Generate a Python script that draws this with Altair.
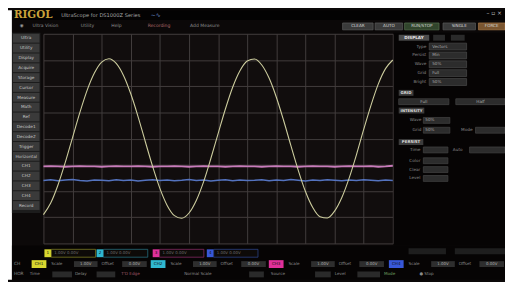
import altair as alt
import pandas as pd

# ---------------- waveform data (units: divisions) ----------------
grid_x = [0, 1, 2, 3, 4, 5, 6, 7, 8, 9, 10, 11, 12]
grid_y = [-4, -3, -2, -1, 0, 1, 2, 3, 4]

ch_t = [0.0, 0.25, 0.5, 0.75, 1.0, 1.25, 1.5, 1.75, 2.0, 2.25, 2.5, 2.75,
        3.0, 3.25, 3.5, 3.75, 4.0, 4.25, 4.5, 4.75, 5.0, 5.25, 5.5, 5.75,
        6.0, 6.25, 6.5, 6.75, 7.0, 7.25, 7.5, 7.75, 8.0, 8.25, 8.5, 8.75,
        9.0, 9.25, 9.5, 9.75, 10.0, 10.25, 10.5, 10.75, 11.0, 11.25, 11.5, 11.75, 12.0]

ch1_v = [-2.90, -2.46, -1.77, -0.91, 0.04, 0.99, 1.84, 2.50, 2.92, 3.05, 2.87, 2.41,
         1.71, 0.84, -0.12, -1.06, -1.90, -2.55, -2.94, -3.04, -2.84, -2.36, -1.65, -0.76,
         0.19, 1.13, 1.96, 2.59, 2.96, 3.04, 2.81, 2.31, 1.58, 0.69, -0.27, -1.20,
         -2.02, -2.63, -2.98, -3.03, -2.77, -2.25, -1.51, -0.62, 0.35, 1.27, 2.08, 2.67, 3.00]

ch3_v = [-1.06, -1.05, -1.06, -1.07, -1.06, -1.05, -1.06, -1.06, -1.07, -1.06, -1.05, -1.06,
         -1.06, -1.05, -1.06, -1.07, -1.06, -1.06, -1.05, -1.06, -1.07, -1.06, -1.05, -1.06,
         -1.06, -1.07, -1.06, -1.05, -1.06, -1.06, -1.07, -1.06, -1.05, -1.06, -1.06, -1.07,
         -1.06, -1.05, -1.06, -1.06, -1.07, -1.06, -1.05, -1.06, -1.06, -1.05, -1.07, -1.06, -1.04]

ch4_v = [-1.60, -1.57, -1.61, -1.58, -1.56, -1.60, -1.62, -1.58, -1.59, -1.61, -1.57, -1.60,
         -1.58, -1.62, -1.59, -1.57, -1.60, -1.58, -1.61, -1.59, -1.56, -1.60, -1.58, -1.62,
         -1.59, -1.57, -1.61, -1.58, -1.60, -1.59, -1.57, -1.61, -1.58, -1.60, -1.56, -1.59,
         -1.62, -1.58, -1.60, -1.57, -1.59, -1.61, -1.58, -1.60, -1.57, -1.59, -1.61, -1.58, -1.60]

side_items = ["Ultra", "Utility", "Display", "Acquire", "Storage", "Cursor", "Measure",
              "Math", "Ref", "Decode1", "Decode2", "Trigger", "Horizontal", "CH1",
              "CH2", "CH3", "CH4", "Record"]
menu_items = ["Ultra Vision", "Utility", "Help", "Recording", "Add  Measure"]
buttons = ["CLEAR", "AUTO", "RUN/STOP", "SINGLE", "FORCE"]
panel_rows = ["Type", "Persist", "Wave", "Grid", "Bright"]
panel_vals = ["Vectors", "Min", "50%", "Full", "50%"]
channels = ["CH1", "CH2", "CH3", "CH4"]
ch_scale = ["1.00V", "1.00V", "1.00V", "1.00V"]

# ---------------- layout of the window chrome (page pixels -> plot-area pixels) ----------------
OX, OY = 44, 32
W_PLOT, H_PLOT = 355, 213


def rect(x0, y0, x1, y1, fill, stroke="transparent"):
    return {"x0": x0 - OX, "y0": y0 - OY, "x1": x1 - OX, "y1": y1 - OY,
            "fill": fill, "stroke": stroke}


def lab(x, y, t, c="#8e8e8e", s=4.6):
    return {"x": x - OX, "y": y - OY, "t": t, "c": c, "s": s}


R, TL, TC, TR, TB = [], [], [], [], []

R.append(rect(8, 8, 12, 282, "#ffffff"))
R.append(rect(12, 8, 513, 18, "#030202"))
R.append(rect(12, 18, 513, 31, "#0b0808"))

# title + window controls
TL.append(lab(62, 12.5, "UltraScope for DS1000Z Series", "#a8a8a8", 5.2))
TL.append(lab(153, 12.5, "~∿", "#6c8cc8", 6))
TR.append(lab(510, 11, "–  ▫  ×", "#bdbdbd", 6))

# menu row
TL.append(lab(20, 24.5, "◉", "#9a9a9a", 4.6))
for x, t, c in zip([33, 82, 113, 150, 193], menu_items,
                   ["#8e8e8e", "#8e8e8e", "#8e8e8e", "#b06a6a", "#8e8e8e"]):
    TL.append(lab(x, 24.5, t, c, 4.6))

# toolbar buttons
for (x0, x1, f, s), t in zip([(348, 379, "#3a3a3a", "#5a5a5a"), (381, 409, "#3a3a3a", "#5a5a5a"),
                             (411, 446, "#31452c", "#58724f"), (450, 483, "#3a3a3a", "#5a5a5a"),
                             (486, 513, "#7b5630", "#a67648")], buttons):
    R.append(rect(x0, 21, x1, 28, f, s))
    TC.append(lab((x0 + x1) / 2, 24.6, t, "#d6d6d6", 4.2))

# left sidebar
R.append(rect(12, 31, 41, 214, "#1c1c1c"))
for i, name in enumerate(side_items):
    y0 = 32 + 10 * i
    R.append(rect(13, y0, 40, y0 + 9, "#3a3a3a"))
    TC.append(lab(26.5, y0 + 4.8, name, "#c8c8c8", 4.3))

# right settings panel
R.append(rect(400, 31, 513, 247, "#060404"))
R.append(rect(405, 33, 436, 39, "#4c4c4c"))
TB.append(lab(420.5, 36.2, "DISPLAY", "#e6e6e6", 4.2))
R.append(rect(440, 33, 452, 39, "#2a2a2a"))
R.append(rect(458, 33, 472, 39, "#2a2a2a"))
for i, (n, v) in enumerate(zip(panel_rows, panel_vals)):
    yc = 45 + 9 * i
    TR.append(lab(433, yc, n, "#8a8a8a", 4.3))
    R.append(rect(436, yc - 3.5, 474, yc + 3.5, "#2c2c2c", "#4a4a4a"))
    TL.append(lab(439, yc, v, "#a8a8a8", 4.2))
R.append(rect(405, 89, 420, 95, "#3c3c3c"))
TB.append(lab(412.5, 92.2, "GRID", "#dcdcdc", 4.0))
R.append(rect(405, 98, 456, 104, "#2c2c2c", "#444444"))
R.append(rect(463, 98, 513, 104, "#2c2c2c", "#444444"))
TC.append(lab(430.5, 101.2, "Full", "#a8a8a8", 4.2))
TC.append(lab(488, 101.2, "Half", "#a8a8a8", 4.2))
R.append(rect(405, 107, 431, 113, "#3c3c3c"))
TB.append(lab(418, 110.2, "INTENSITY", "#dcdcdc", 3.8))
for yc, n in [(120, "Wave"), (130, "Grid")]:
    TR.append(lab(428, yc, n, "#8a8a8a", 4.3))
    R.append(rect(430, yc - 3, 457, yc + 3, "#2c2c2c", "#444444"))
    TL.append(lab(432, yc, "50%", "#a8a8a8", 4.2))
TR.append(lab(480, 130, "Mode", "#8a8a8a", 4.3))
R.append(rect(483, 127, 513, 133, "#2c2c2c", "#444444"))
R.append(rect(405, 139, 430, 145, "#3c3c3c"))
TB.append(lab(417.5, 142.2, "PERSIST", "#dcdcdc", 4.0))
for yc, n in [(150, "Time"), (161, "Color"), (170, "Clear"), (179, "Level")]:
    TR.append(lab(427, yc, n, "#8a8a8a", 4.3))
    R.append(rect(430, yc - 3, 455, yc + 3, "#2c2c2c", "#444444"))
TL.append(lab(460, 150, "Auto", "#8a8a8a", 4.3))
R.append(rect(477, 147, 513, 153, "#2c2c2c", "#444444"))

# bottom status area
R.append(rect(12, 247, 513, 282, "#060404"))
R.append(rect(415, 250, 453, 256, "#1e1e1e"))
R.append(rect(462, 250, 513, 256, "#1e1e1e"))
ch_cols = ["#d8d830", "#30b8d0", "#e0309a", "#3858d8"]
ch_dim = ["#8c8c28", "#2a7c8c", "#963070", "#304a96"]
for x0, c, d, name, sc in zip([45, 98, 155, 210], ch_cols, ch_dim, channels, ch_scale):
    R.append(rect(x0, 251, x0 + 7, 259, c))
    R.append(rect(x0 + 7, 251, x0 + 52, 259, "#0d0a08", d))
    TC.append(lab(x0 + 3.5, 255.2, name[-1], "#101010", 4.2))
    TL.append(lab(x0 + 10, 255.2, sc + "  0.00V", "#6e6e6e", 4.0))
TL.append(lab(14, 266, "CH", "#8a8a8a", 4.4))
for x0, c, name in zip([32, 153, 273, 395], ch_cols, channels):
    R.append(rect(x0, 262, x0 + 15, 270, c))
    TC.append(lab(x0 + 7.5, 266.2, name, "#101010", 4.2))
    TL.append(lab(x0 + 20, 266, "Scale", "#8a8a8a", 4.2))
    R.append(rect(x0 + 43, 263, x0 + 67, 269, "#2e2e2e"))
    TC.append(lab(x0 + 55, 266.2, "1.00V", "#b0b0b0", 4.0))
    TL.append(lab(x0 + 71, 266, "Offset", "#8a8a8a", 4.2))
    R.append(rect(x0 + 92, 263, x0 + 117, 269, "#2e2e2e"))
    TC.append(lab(x0 + 104.5, 266.2, "0.00V", "#b0b0b0", 4.0))
TL.append(lab(14, 276.5, "HOR", "#8a8a8a", 4.4))
for x, t, c in [(30, "Time", "#8a8a8a"), (76, "Delay", "#8a8a8a"), (123, "T'D  Edge", "#a05868"),
                (187, "Normal  Scale", "#8a8a8a"), (275, "Source", "#8a8a8a"),
                (340, "Level", "#8a8a8a"), (390, "Mode", "#6fa060"), (426, "●  Stop", "#8a8a8a")]:
    TL.append(lab(x, 276.5, t, c, 4.2))
for x0, x1 in [(53, 73), (98, 117), (253, 268), (320, 336), (363, 386)]:
    R.append(rect(x0, 273.5, x1, 279.5, "#2a2a2a"))

# ---------------- build the chart ----------------
rect_df = pd.DataFrame(R)


def text_layer(rows, align, weight="normal", font="DejaVu Sans"):
    return alt.Chart(pd.DataFrame(rows)).mark_text(
        align=align, baseline="middle", font=font, fontWeight=weight
    ).encode(
        x=alt.X("x:Q", scale=None),
        y=alt.Y("y:Q", scale=None),
        text="t:N",
        color=alt.Color("c:N", scale=None),
        size=alt.Size("s:Q", scale=None),
    )


chrome = alt.Chart(rect_df).mark_rect(strokeWidth=0.7).encode(
    x=alt.X("x0:Q", scale=None), x2="x1:Q",
    y=alt.Y("y0:Q", scale=None), y2="y1:Q",
    fill=alt.Fill("fill:N", scale=None),
    stroke=alt.Stroke("stroke:N", scale=None),
)

wave_df = pd.DataFrame({"t": ch_t, "ch1": ch1_v, "ch3": ch3_v, "ch4": ch4_v})

x_enc = alt.X("t:Q", scale=alt.Scale(domain=[0, 12], nice=False, zero=False),
              axis=alt.Axis(values=grid_x, grid=True, gridColor="#423d3d", gridWidth=1,
                            labels=False, ticks=False, domain=False, title=None))


def y_enc(field):
    return alt.Y(field + ":Q", scale=alt.Scale(domain=[-4, 4], nice=False, zero=False),
                 axis=alt.Axis(values=grid_y, grid=True, gridColor="#423d3d", gridWidth=1,
                               labels=False, ticks=False, domain=False, title=None))


base = alt.Chart(wave_df)
ch4 = base.mark_line(color="#5473bf", strokeWidth=1.5).encode(x=x_enc, y=y_enc("ch4"))
ch3 = base.mark_line(color="#c97cbb", strokeWidth=2).encode(x=x_enc, y=y_enc("ch3"))
ch1 = base.mark_line(color="#cdcd9e", strokeWidth=1.1, interpolate="monotone").encode(
    x=x_enc, y=y_enc("ch1"))

logo = alt.Chart(pd.DataFrame([lab(14, 12.8, "RIGOL", "#c9a23a", 10.5)])).mark_text(
    align="left", baseline="middle", font="DejaVu Serif", fontWeight="bold"
).encode(x=alt.X("x:Q", scale=None), y=alt.Y("y:Q", scale=None), text="t:N",
         color=alt.Color("c:N", scale=None), size=alt.Size("s:Q", scale=None))

chart = alt.layer(
    chrome, ch4, ch3, ch1,
    text_layer(TL, "left"), text_layer(TC, "center"), text_layer(TR, "right"),
    text_layer(TB, "center", "bold"), logo,
).properties(
    width=W_PLOT, height=H_PLOT,
    padding={"left": 36, "top": 24, "right": 114, "bottom": 37},
    autosize=alt.AutoSizeParams(type="none"),
    background="#0c0909",
).configure_view(fill="#110d0d", stroke="transparent")

chart.save("out.html", embed_options={"renderer": "svg", "actions": False})
